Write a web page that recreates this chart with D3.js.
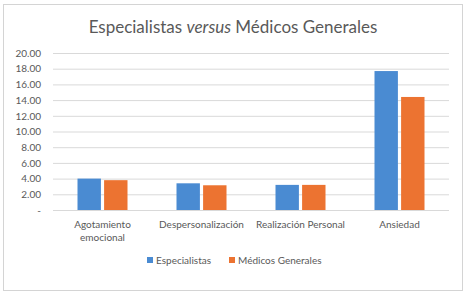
<!DOCTYPE html>
<html>
<head>
<meta charset="utf-8">
<script src="https://cdnjs.cloudflare.com/ajax/libs/d3/7.8.5/d3.min.js"></script>
<style>
  body { margin: 0; background: #fff; }
  text { font-family: Lato, "Open Sans", sans-serif; }
</style>
</head>
<body>
<div id="chart-area"></div>
<script>
var categories = ['Agotamiento emocional', 'Despersonalización', 'Realización Personal', 'Ansiedad'];
var seriesNames = ['Especialistas', 'Médicos Generales'];
var especialistas = [4.0, 3.4, 3.2, 17.7];
var medicosGenerales = [3.8, 3.15, 3.2, 14.4];
var yTicks = [0, 2, 4, 6, 8, 10, 12, 14, 16, 18, 20];
var colors = ['#4a8bd2', '#ec7331'];

var W = 468, H = 294;
var margin = { top: 53, right: 19, bottom: 84, left: 53 },
  width = W - margin.left - margin.right,
  height = H - margin.top - margin.bottom;

var svg = d3.select('#chart-area')
  .append('svg')
    .attr('width', W)
    .attr('height', H);

// outer frame
svg.append('rect')
  .attr('x', 3.5).attr('y', 4.5)
  .attr('width', 459).attr('height', 286)
  .attr('fill', 'none')
  .attr('stroke', '#d4d4d4');

// title
var title = svg.append('text')
  .attr('x', 233)
  .attr('y', 33)
  .attr('text-anchor', 'middle')
  .attr('font-size', '17px')
  .attr('fill', '#595959');
title.append('tspan').text('Especialistas ');
title.append('tspan').attr('font-style', 'italic').text('versus');
title.append('tspan').text(' Médicos Generales');

var g = svg.append('g')
  .attr('transform', 'translate(' + margin.left + ', ' + margin.top + ')');

var xScale = d3.scaleBand()
  .domain(categories)
  .range([0, width]);

var xInner = d3.scaleBand()
  .domain(seriesNames)
  .range([0, 50])
  .paddingInner(0.12);

var yScale = d3.scaleLinear()
  .domain([0, 20])
  .range([height, 0]);

// y axis with gridlines
var yAxisCall = d3.axisLeft(yScale)
  .tickValues(yTicks)
  .tickSize(-width)
  .tickPadding(12)
  .tickFormat(t => t === 0 ? '-' : d3.format('.2f')(t));

var yAxisGroup = g.append('g')
  .attr('class', 'y-axis')
  .call(yAxisCall);
yAxisGroup.select('.domain').remove();
yAxisGroup.selectAll('line').attr('stroke', '#d9d9d9');
yAxisGroup.selectAll('text')
  .attr('fill', '#595959')
  .attr('font-size', '10px');

// bars
var data = categories.map((c, i) => ({ cat: c, values: [especialistas[i], medicosGenerales[i]] }));

var groups = g.selectAll('.grp')
  .data(data)
  .enter()
  .append('g')
    .attr('class', 'grp')
    .attr('transform', d => 'translate(' + (xScale(d.cat) + xScale.bandwidth() / 2 - 25) + ', 0)');

groups.selectAll('rect')
  .data(d => d.values.map((v, j) => ({ name: seriesNames[j], value: v, idx: j })))
  .enter()
  .append('rect')
    .attr('x', d => xInner(d.name))
    .attr('y', d => yScale(d.value))
    .attr('width', xInner.bandwidth())
    .attr('height', d => height - yScale(d.value))
    .attr('fill', d => colors[d.idx]);

// category labels
var xLabels = g.selectAll('.xlab')
  .data(categories)
  .enter()
  .append('text')
    .attr('class', 'xlab')
    .attr('x', d => xScale(d) + xScale.bandwidth() / 2)
    .attr('y', height + 18)
    .attr('text-anchor', 'middle')
    .attr('font-size', '10px')
    .attr('fill', '#595959');

xLabels.each(function (d) {
  var lines = d === 'Agotamiento emocional' ? ['Agotamiento', 'emocional'] : [d];
  var t = d3.select(this);
  lines.forEach((l, k) => {
    t.append('tspan')
      .attr('x', xScale(d) + xScale.bandwidth() / 2)
      .attr('dy', k === 0 ? 0 : 13)
      .text(l);
  });
});

// legend
var legendX = [147, 229];
var legend = svg.selectAll('.leg')
  .data(seriesNames)
  .enter()
  .append('g')
    .attr('class', 'leg')
    .attr('transform', (d, i) => 'translate(' + legendX[i] + ', 264)');

legend.append('rect')
  .attr('x', 0).attr('y', -7)
  .attr('width', 6).attr('height', 6)
  .attr('fill', (d, i) => colors[i]);

legend.append('text')
  .attr('x', 9)
  .attr('y', 0)
  .attr('font-size', '10px')
  .attr('fill', '#595959')
  .text(d => d);
</script>
</body>
</html>
